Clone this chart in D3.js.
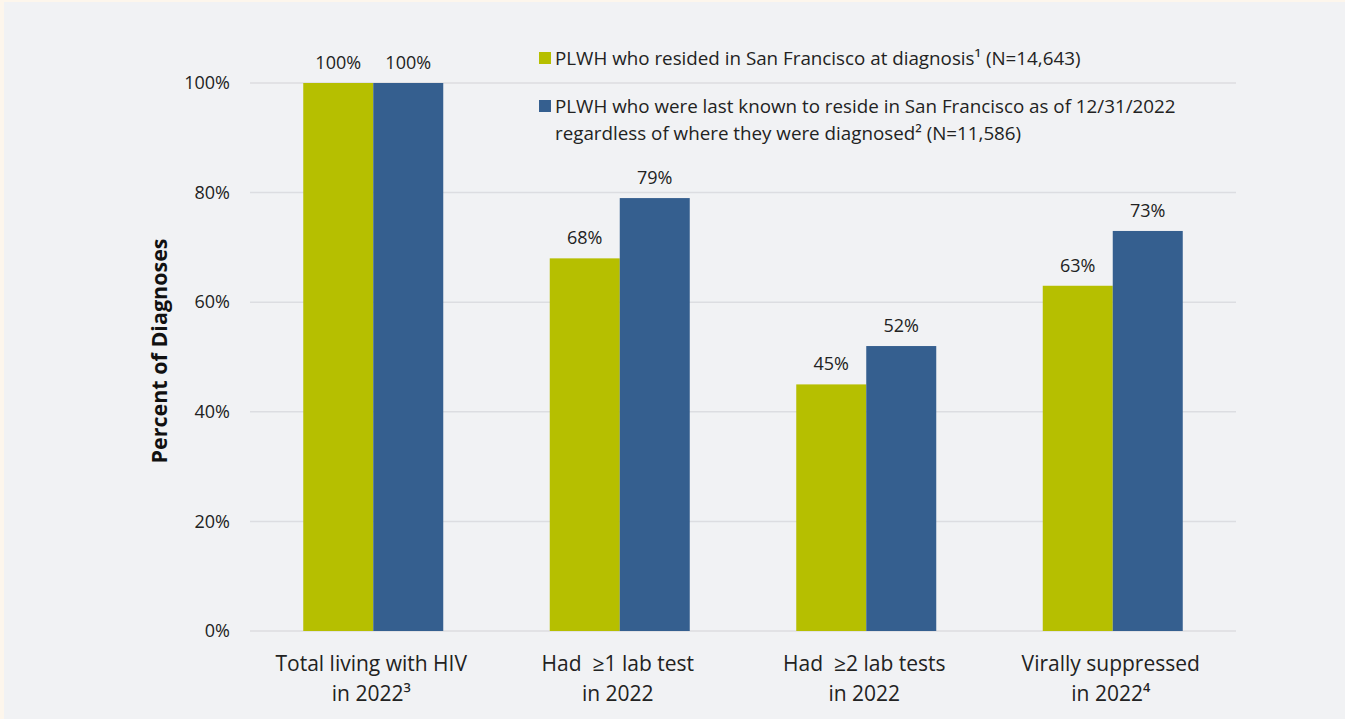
<!DOCTYPE html>
<html>
<head>
<meta charset="utf-8">
<script src="https://cdn.jsdelivr.net/npm/d3@7"></script>
<style>
  html, body { margin: 0; padding: 0; background: #fdf6ec; }
  svg { display: block; }
</style>
</head>
<body>
<svg id="viz" width="1345" height="719"></svg>
<script>
/* Data */

const categories = [
  ['Total living with HIV', 'in 2022\u00b3'],
  ['Had  \u22651 lab test', 'in 2022'],
  ['Had  \u22652 lab tests', 'in 2022'],
  ['Virally suppressed', 'in 2022\u2074']
];
const seriesNames = [
  ['PLWH who resided in San Francisco at diagnosis\u00b9 (N=14,643)'],
  ['PLWH who were last known to reside in San Francisco as of 12/31/2022',
   'regardless of where they were diagnosed\u00b2 (N=11,586)']
];
const residedAtDiagnosis = [100, 68, 45, 63];
const lastKnownResidence = [100, 79, 52, 73];
const yTicks = [0, 20, 40, 60, 80, 100];

/* Visualization */

const svg = d3.select('#viz');
const font = '"Open Sans", sans-serif';
const colors = ['#b6bf00', '#355f8f'];
const series = [residedAtDiagnosis, lastKnownResidence];

// background panel
svg.append('rect')
  .attr('x', 4).attr('y', 2)
  .attr('width', 1341).attr('height', 717)
  .attr('fill', '#f1f2f4');

const plotLeft = 250, plotRight = 1236, plotTop = 83, plotBottom = 631;

const x0 = d3.scaleBand().domain(d3.range(categories.length)).range([plotLeft, plotRight]);
const x1 = d3.scaleBand().domain([0, 1]).range([x0.bandwidth() / 2 - 70, x0.bandwidth() / 2 + 70]);
const y = d3.scaleLinear().domain([0, 100]).range([plotBottom, plotTop]);

// gridlines
svg.append('g')
  .selectAll('line')
  .data(yTicks)
  .join('line')
  .attr('x1', plotLeft).attr('x2', plotRight)
  .attr('y1', d => y(d)).attr('y2', d => y(d))
  .attr('stroke', '#dcdde1')
  .attr('stroke-width', 1.5);

// y axis
const yAxis = svg.append('g')
  .attr('transform', 'translate(' + (plotLeft - 20) + ',0)')
  .call(d3.axisLeft(y).tickValues(yTicks).tickFormat(d => d + '%').tickSize(0).tickPadding(0));
yAxis.select('.domain').remove();
yAxis.selectAll('text')
  .attr('font-family', font).attr('font-size', 18).attr('fill', '#222');

// y title
svg.append('text')
  .attr('transform', 'translate(167,' + ((plotTop + plotBottom) / 2 - 6) + ') rotate(-90)')
  .attr('text-anchor', 'middle')
  .attr('font-family', font).attr('font-size', 21.5).attr('font-weight', 'bold')
  .attr('fill', '#111')
  .text('Percent of Diagnoses');

// bars
const groups = svg.append('g')
  .selectAll('g')
  .data(categories.map((c, i) => i))
  .join('g')
  .attr('transform', i => 'translate(' + x0(i) + ',0)');

groups.selectAll('rect')
  .data(i => series.map((s, k) => ({ k: k, v: s[i] })))
  .join('rect')
  .attr('x', d => x1(d.k))
  .attr('width', x1.bandwidth())
  .attr('y', d => y(d.v))
  .attr('height', d => y(0) - y(d.v))
  .attr('fill', d => colors[d.k]);

groups.selectAll('text.val')
  .data(i => series.map((s, k) => ({ k: k, v: s[i] })))
  .join('text')
  .attr('class', 'val')
  .attr('x', d => x1(d.k) + x1.bandwidth() / 2)
  .attr('y', d => y(d.v) - 14)
  .attr('text-anchor', 'middle')
  .attr('font-family', font).attr('font-size', 18).attr('fill', '#222')
  .text(d => d.v + '%');

// x labels
groups.append('text')
  .attr('text-anchor', 'middle')
  .attr('font-family', font).attr('font-size', 21).attr('fill', '#222')
  .attr('xml:space', 'preserve')
  .selectAll('tspan')
  .data(i => categories[i])
  .join('tspan')
  .attr('x', x0.bandwidth() / 2 - 2)
  .attr('y', (d, j) => 671 + j * 30)
  .text(d => d);

// legend
const legend = svg.append('g');
const legendY = [58, 106];
seriesNames.forEach((lines, k) => {
  legend.append('rect')
    .attr('x', 539).attr('y', legendY[k] - 6)
    .attr('width', 12).attr('height', 12)
    .attr('fill', colors[k]);
  legend.append('text')
    .attr('font-family', font).attr('font-size', 18.8).attr('fill', '#222')
    .selectAll('tspan')
    .data(lines)
    .join('tspan')
    .attr('x', 555)
    .attr('y', (d, j) => legendY[k] + 7 + j * 27)
    .text(d => d);
});
</script>
</body>
</html>
